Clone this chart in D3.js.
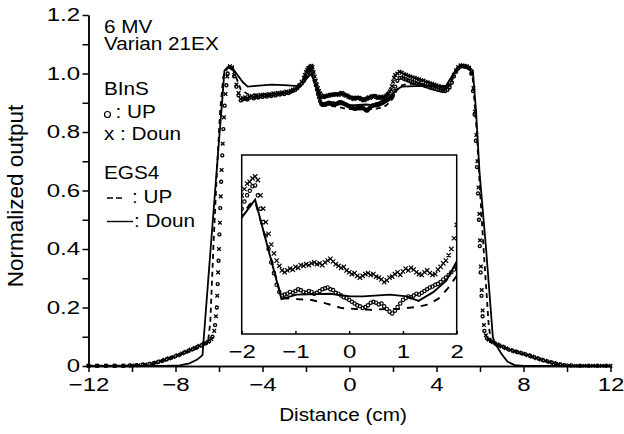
<!DOCTYPE html>
<html>
<head>
<meta charset="utf-8">
<script src="https://cdn.jsdelivr.net/npm/d3@7"></script>
<style>
  body { margin: 0; background: #fff; }
  svg text { font-family: "Liberation Sans", Arial, Helvetica, sans-serif; fill: #000; }
</style>
</head>
<body>
<div id="svg-container"></div>
<script>
////////////////////////////////////////////////////////////////////
////////////////////////////  Data  ////////////////////////////////
const xTicksMajor = [-12, -8, -4, 0, 4, 8, 12];
const xTicksMinor = [-10, -6, -2, 2, 6, 10];
const yTicksMajor = [0, 0.2, 0.4, 0.6, 0.8, 1.0, 1.2];
const yTicksMinor = [0.1, 0.3, 0.5, 0.7, 0.9, 1.1];
const insetTicks = [-2, -1, 0, 1, 2];
const insetYDomain = [0.85, 1.05];

// sampling grids of the BInS profiles (cm)
const gridLeft = d3.range(-5.5, -2.15, 0.1);
const gridCenter = d3.range(-2.1, 2.125, 0.05);
const gridRight = d3.range(2.2, 5.55, 0.1);

// BInS, Doun (x markers)
const binsDounLeftTail = [[-12,0.001],[-11.6,0.001],[-11.2,0.001],[-10.8,0.001],[-10.4,0.001],[-10.0,0.002],[-9.7,0.003],[-9.4,0.005],[-9.1,0.008],[-8.9,0.012],[-8.7,0.016],[-8.5,0.021],[-8.3,0.026],[-8.1,0.031],[-7.9,0.037],[-7.7,0.043],[-7.5,0.049],[-7.3,0.056],[-7.1,0.062],[-6.9,0.069],[-6.7,0.076],[-6.5,0.083],[-6.35,0.092],[-6.22,0.12],[-6.14,0.17],[-6.08,0.24],[-6.04,0.32],[-6.0,0.40],[-5.96,0.49],[-5.92,0.58],[-5.88,0.67],[-5.83,0.76],[-5.77,0.85],[-5.7,0.93],[-5.62,0.99]];
const binsDounLeft = [1.025,1.021,0.995,0.962,0.933,0.913,0.916,0.919,0.914,0.921,0.923,0.918,0.925,0.921,0.927,0.923,0.928,0.925,0.930,0.926,0.932,0.928,0.934,0.931,0.936,0.933,0.938,0.936,0.941,0.944,0.947,0.953,0.961,0.972];
const binsDounCenter = [0.985,0.995,1.005,1.012,1.018,1.020,1.024,1.026,1.022,1.005,0.990,0.975,0.962,0.950,0.940,0.932,0.926,0.921,0.919,0.921,0.923,0.922,0.925,0.924,0.927,0.926,0.928,0.927,0.929,0.930,0.928,0.929,0.927,0.930,0.932,0.934,0.931,0.928,0.926,0.924,0.925,0.921,0.919,0.917,0.918,0.915,0.913,0.915,0.917,0.918,0.916,0.917,0.914,0.913,0.911,0.908,0.910,0.913,0.914,0.917,0.919,0.916,0.920,0.923,0.921,0.924,0.922,0.919,0.917,0.916,0.919,0.921,0.918,0.916,0.917,0.922,0.925,0.929,0.932,0.938,0.945,0.957,0.972,0.985,0.995];
const binsDounRight = [1.000,1.006,1.003,0.998,0.996,0.992,0.990,0.987,0.985,0.982,0.980,0.977,0.976,0.972,0.970,0.967,0.965,0.962,0.960,0.957,0.955,0.953,0.951,0.955,0.962,0.977,0.996,1.011,1.022,1.028,1.027,1.026,1.025,1.020];
const binsDounRightTail = [[5.62,1.0],[5.7,0.95],[5.77,0.87],[5.83,0.79],[5.88,0.70],[5.93,0.61],[5.97,0.52],[6.0,0.43],[6.04,0.34],[6.08,0.26],[6.12,0.19],[6.18,0.14],[6.27,0.105],[6.4,0.09],[6.6,0.081],[6.8,0.074],[7.0,0.067],[7.2,0.061],[7.4,0.055],[7.6,0.05],[7.8,0.046],[8.0,0.042],[8.2,0.037],[8.4,0.032],[8.6,0.027],[8.8,0.022],[9.0,0.018],[9.2,0.014],[9.4,0.01],[9.6,0.006],[9.8,0.003],[10.1,0.002],[10.4,0.001],[10.8,0.001],[11.2,0.001],[11.6,0.001],[12,0.001]];

// BInS, UP (o markers)
const binsUpLeftTail = [[-12,0.001],[-11.6,0.001],[-11.2,0.001],[-10.8,0.001],[-10.4,0.001],[-10.1,0.002],[-9.8,0.003],[-9.5,0.005],[-9.2,0.007],[-9.0,0.01],[-8.8,0.014],[-8.6,0.018],[-8.4,0.023],[-8.2,0.028],[-8.0,0.034],[-7.8,0.039],[-7.6,0.046],[-7.4,0.052],[-7.2,0.058],[-7.0,0.065],[-6.8,0.071],[-6.6,0.078],[-6.45,0.085],[-6.3,0.1],[-6.18,0.14],[-6.1,0.2],[-6.06,0.28],[-6.02,0.36],[-5.98,0.45],[-5.94,0.54],[-5.9,0.63],[-5.85,0.72],[-5.8,0.81],[-5.74,0.89],[-5.66,0.96],[-5.6,1.0]];
const binsUpLeft = [1.022,1.018,0.990,0.955,0.925,0.908,0.912,0.915,0.911,0.917,0.919,0.915,0.921,0.918,0.923,0.920,0.925,0.921,0.927,0.923,0.929,0.925,0.931,0.928,0.933,0.930,0.935,0.933,0.938,0.941,0.944,0.950,0.958,0.966];
const binsUpCenter = [0.975,0.985,0.990,0.998,1.005,1.010,1.015,1.016,1.005,0.990,0.975,0.960,0.945,0.930,0.918,0.905,0.897,0.893,0.894,0.895,0.897,0.896,0.898,0.900,0.899,0.897,0.896,0.898,0.897,0.895,0.896,0.898,0.900,0.901,0.902,0.900,0.899,0.896,0.895,0.893,0.891,0.890,0.888,0.886,0.884,0.882,0.881,0.879,0.880,0.882,0.885,0.886,0.885,0.883,0.884,0.881,0.878,0.875,0.873,0.876,0.880,0.884,0.888,0.890,0.892,0.891,0.893,0.895,0.894,0.896,0.898,0.900,0.902,0.903,0.905,0.906,0.908,0.911,0.913,0.916,0.919,0.922,0.926,0.940,0.955];
const binsUpRight = [0.975,0.985,0.986,0.982,0.979,0.976,0.974,0.971,0.969,0.966,0.964,0.961,0.960,0.957,0.955,0.952,0.950,0.948,0.946,0.944,0.942,0.941,0.940,0.944,0.952,0.968,0.990,1.006,1.018,1.024,1.025,1.023,1.022,1.018];
const binsUpRightTail = [[5.6,1.0],[5.68,0.94],[5.75,0.86],[5.81,0.77],[5.86,0.68],[5.91,0.59],[5.95,0.5],[5.99,0.41],[6.03,0.32],[6.07,0.24],[6.12,0.17],[6.2,0.12],[6.32,0.095],[6.5,0.085],[6.7,0.077],[6.9,0.07],[7.1,0.064],[7.3,0.057],[7.5,0.052],[7.7,0.048],[7.9,0.044],[8.1,0.04],[8.3,0.035],[8.5,0.03],[8.7,0.025],[8.9,0.02],[9.1,0.016],[9.3,0.012],[9.5,0.008],[9.7,0.005],[9.9,0.003],[10.2,0.002],[10.6,0.001],[11.0,0.001],[11.4,0.001],[11.8,0.001]];

// EGS4, UP (dashed)
const egsUp = [[-12,0.001],[-10.5,0.001],[-10,0.002],[-9.5,0.004],[-9,0.01],[-8.5,0.02],[-8,0.032],[-7.5,0.046],[-7,0.06],[-6.7,0.072],[-6.5,0.085],[-6.4,0.15],[-6.25,0.42],[-6.1,0.66],[-5.95,0.87],[-5.8,0.99],[-5.6,1.02],[-5.4,1.02],[-5.2,0.985],[-5.0,0.945],[-4.7,0.93],[-4.2,0.928],[-3.6,0.93],[-3.0,0.935],[-2.5,0.945],[-2.2,0.962],[-2.0,0.982],[-1.85,0.995],[-1.75,0.998],[-1.5,0.945],[-1.26,0.89],[-0.98,0.889],[-0.7,0.888],[-0.42,0.884],[-0.14,0.879],[0.11,0.878],[0.42,0.877],[0.67,0.878],[0.92,0.878],[1.23,0.880],[1.48,0.883],[1.67,0.89],[1.85,0.902],[2.0,0.915],[2.15,0.94],[2.35,0.958],[2.7,0.965],[3.2,0.963],[3.8,0.958],[4.4,0.952],[4.6,0.97],[4.85,1.0],[5.1,1.022],[5.4,1.025],[5.65,1.0],[5.85,0.8],[6.0,0.6],[6.2,0.36],[6.4,0.14],[6.5,0.085],[6.8,0.072],[7.2,0.06],[7.6,0.049],[8.0,0.04],[8.5,0.028],[9.0,0.016],[9.5,0.006],[10,0.002],[10.5,0.001],[12,0.001]];

// EGS4, Doun (solid)
const egsDoun = [[-12,0],[-8.5,0],[-7.8,0.002],[-7.36,0.009],[-7.0,0.022],[-6.76,0.037],[-6.5,0.29],[-6.25,0.53],[-6.0,0.77],[-5.85,0.91],[-5.75,1.01],[-5.6,1.022],[-5.4,1.02],[-5.2,1.0],[-4.9,0.97],[-4.68,0.955],[-4.3,0.958],[-3.6,0.962],[-3.0,0.960],[-2.5,0.958],[-2.2,0.96],[-2.0,0.98],[-1.75,1.0],[-1.26,0.889],[-0.98,0.894],[-0.36,0.895],[0.02,0.892],[0.26,0.892],[0.76,0.894],[1.07,0.892],[1.29,0.887],[1.57,0.897],[1.81,0.91],[2.0,0.931],[2.15,0.945],[2.4,0.955],[3.0,0.957],[3.8,0.958],[4.44,0.958],[4.7,0.99],[4.95,1.02],[5.2,1.026],[5.5,1.02],[5.67,1.01],[5.82,0.87],[5.98,0.66],[6.28,0.4],[6.59,0.1],[6.67,0.08],[7.0,0.04],[7.26,0.015],[7.6,0.003],[8,0],[12,0]];

const binsDoun = [
  ...binsDounLeftTail,
  ...gridLeft.map((x, i) => [x, binsDounLeft[i]]),
  ...gridCenter.map((x, i) => [x, binsDounCenter[i]]),
  ...gridRight.map((x, i) => [x, binsDounRight[i]]),
  ...binsDounRightTail,
];
const binsUp = [
  ...binsUpLeftTail,
  ...gridLeft.map((x, i) => [x, binsUpLeft[i]]),
  ...gridCenter.map((x, i) => [x, binsUpCenter[i]]),
  ...gridRight.map((x, i) => [x, binsUpRight[i]]),
  ...binsUpRightTail,
];

////////////////////////////////////////////////////////////////////
////////////////////////////  Init  ////////////////////////////////
const width = 624, height = 434;
const stretch = 1.12;     // the lettering is a little wider than Arial
const numStretch = 1.3;   // and the digits even more so
const fontSize = 18.5;

const svg = d3.select("#svg-container").append("svg")
  .attr("width", width).attr("height", height);

// scales
const xScale = d3.scaleLinear().domain([-12, 12]).range([88.5, 610.5]);
const yScale = d3.scaleLinear().domain([0, 1.2]).range([366, 15]);
const ixScale = d3.scaleLinear().domain([-2, 2]).range([241.7, 456.7]);
const iyScale = d3.scaleLinear().domain(insetYDomain).range([334, 155]);

function label(g, x, y, str, anchor) {
  return g.append("text")
    .attr("transform", `translate(${x},${y}) scale(${stretch},1)`)
    .attr("text-anchor", anchor || "start")
    .attr("font-size", fontSize)
    .text(str);
}

function styleAxis(g) {
  g.selectAll("path, line").attr("stroke", "#000").attr("stroke-width", 1.5);
  g.selectAll("text").attr("font-size", fontSize).attr("fill", "#000")
    .attr("font-family", null)
    .attr("transform", `scale(${numStretch},1)`);
}

function crossPath(xs, ys, s) {
  return (d) => {
    const cx = xs(d[0]), cy = ys(d[1]);
    return `M${cx - s},${cy - s}L${cx + s},${cy + s}M${cx - s},${cy + s}L${cx + s},${cy - s}`;
  };
}

function drawSeries(g, xs, ys, opt) {
  const line = d3.line().x((d) => xs(d[0])).y((d) => ys(d[1]));
  g.append("path").datum(egsUp)
    .attr("d", line).attr("fill", "none").attr("stroke", "#000")
    .attr("stroke-width", opt.lw).attr("stroke-dasharray", opt.dash);
  g.append("path").datum(egsDoun)
    .attr("d", line).attr("fill", "none").attr("stroke", "#000")
    .attr("stroke-width", opt.lw);
  g.append("g").selectAll("circle").data(binsUp).join("circle")
    .attr("cx", (d) => xs(d[0])).attr("cy", (d) => ys(d[1]))
    .attr("r", opt.r).attr("fill", "none").attr("stroke", "#000").attr("stroke-width", opt.mw);
  g.append("g").selectAll("path").data(binsDoun).join("path")
    .attr("d", crossPath(xs, ys, opt.s))
    .attr("fill", "none").attr("stroke", "#000").attr("stroke-width", opt.mw);
}

////////////////////////////////////////////////////////////////////
////////////////////////////  Axes  ////////////////////////////////
const xAxis = svg.append("g").attr("class", "x-axis")
  .attr("transform", `translate(0,${yScale(0)})`)
  .call(d3.axisBottom(xScale).tickValues(xTicksMajor).tickSize(6).tickPadding(6).tickSizeOuter(0));
styleAxis(xAxis);
svg.append("g").attr("transform", `translate(0,${yScale(0)})`)
  .call(d3.axisBottom(xScale).tickValues(xTicksMinor).tickSize(6).tickFormat("").tickSizeOuter(0))
  .call(styleAxis);

const yAxis = svg.append("g").attr("class", "y-axis")
  .attr("transform", `translate(${xScale(-12)},0)`)
  .call(d3.axisLeft(yScale).tickValues(yTicksMajor).tickSize(6).tickPadding(0.5)
    .tickFormat((d) => (d === 0 ? "0" : d3.format(".1f")(d))).tickSizeOuter(0));
styleAxis(yAxis);
svg.append("g").attr("transform", `translate(${xScale(-12)},0)`)
  .call(d3.axisLeft(yScale).tickValues(yTicksMinor).tickSize(6).tickFormat("").tickSizeOuter(0))
  .call(styleAxis);

label(svg, 343, 421, "Distance (cm)", "middle");
svg.append("text")
  .attr("transform", "translate(23,196) rotate(-90)")
  .attr("text-anchor", "middle").attr("font-size", 22.5)
  .text("Normalized output");

////////////////////////////////////////////////////////////////////
////////////////////////////  Profiles  ////////////////////////////
drawSeries(svg.append("g"), xScale, yScale, { lw: 1.8, dash: "5,4", r: 1.5, s: 1.8, mw: 1.35 });

////////////////////////////////////////////////////////////////////
////////////////////////////  Inset  ///////////////////////////////
const inset = svg.append("g");
const insetBox = {
  x: ixScale(-2), y: iyScale(insetYDomain[1]),
  w: ixScale(2) - ixScale(-2), h: iyScale(insetYDomain[0]) - iyScale(insetYDomain[1]),
};
inset.append("rect")
  .attr("x", insetBox.x).attr("y", insetBox.y).attr("width", insetBox.w).attr("height", insetBox.h)
  .attr("fill", "#fff");
svg.append("clipPath").attr("id", "inset-clip").append("rect")
  .attr("x", insetBox.x).attr("y", insetBox.y).attr("width", insetBox.w).attr("height", insetBox.h);
drawSeries(inset.append("g").attr("clip-path", "url(#inset-clip)"), ixScale, iyScale,
  { lw: 1.9, dash: "7,7", r: 1.7, s: 2.2, mw: 1.15 });
inset.append("rect")
  .attr("x", insetBox.x).attr("y", insetBox.y).attr("width", insetBox.w).attr("height", insetBox.h)
  .attr("fill", "none").attr("stroke", "#000").attr("stroke-width", 1.5);
const insetAxis = inset.append("g")
  .attr("transform", `translate(0,${iyScale(insetYDomain[0])})`)
  .call(d3.axisBottom(ixScale).tickValues(insetTicks).tickSize(-3).tickPadding(11)
    .tickFormat(d3.format("d")).tickSizeOuter(0));
styleAxis(insetAxis);
insetAxis.select(".domain").remove();

////////////////////////////////////////////////////////////////////
////////////////////////////  Legend  //////////////////////////////
const legend = svg.append("g");
label(legend, 104, 33, "6 MV");
label(legend, 104, 50, "Varian 21EX");
label(legend, 104, 95, "BInS");
legend.append("circle").attr("cx", 107.5).attr("cy", 114.5).attr("r", 3)
  .attr("fill", "none").attr("stroke", "#000").attr("stroke-width", 1.2);
label(legend, 115.5, 118, ": UP");
label(legend, 104, 140, "x : Doun");
label(legend, 104, 179, "EGS4");
legend.append("line").attr("x1", 107).attr("x2", 124).attr("y1", 198).attr("y2", 198)
  .attr("stroke", "#000").attr("stroke-width", 1.4).attr("stroke-dasharray", "6,3");
label(legend, 132, 203, ": UP");
legend.append("line").attr("x1", 107).attr("x2", 133).attr("y1", 221.5).attr("y2", 221.5)
  .attr("stroke", "#000").attr("stroke-width", 1.4);
label(legend, 134, 226.5, ": Doun");
</script>
</body>
</html>
